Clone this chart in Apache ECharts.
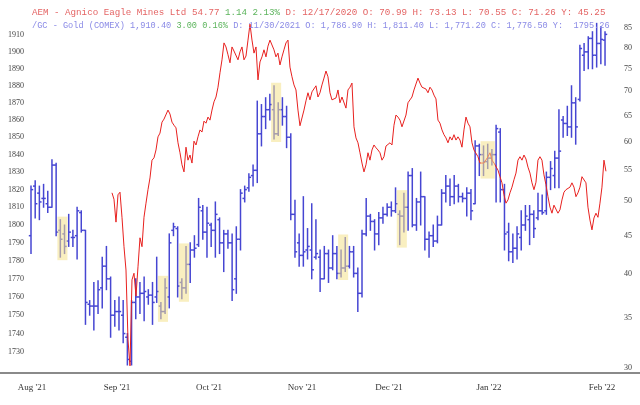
<!DOCTYPE html>
<html>
<head>
<meta charset="utf-8">
<script src="https://cdn.jsdelivr.net/npm/echarts@6/dist/echarts.min.js"></script>
<style>html,body{margin:0;padding:0;background:#fff}#c{width:640px;height:405px}</style>
</head>
<body>
<div id="c"></div>
<script>
// ---- data ----
const monthLabels = ["Aug '21","Sep '21","Oct '21","Nov '21","Dec '21","Jan '22","Feb '22"];
const monthAt = [0.24, 20.53, 42.48, 64.68, 85.44, 109.31, 136.28]; // in bar-index units
const goldTicks = [1730,1740,1750,1760,1770,1780,1790,1800,1810,1820,1830,1840,1850,1860,1870,1880,1890,1900,1910];
const aemTicks = [30,35,40,45,50,55,60,65,70,75,80,85];

const goldOpen = [
1794,1822,1818,1815,1812,1810,1834,1797,1795,1791,
1793,1794,1807,1797,1756,1755,1755,1765,1777,1770,
1750,1752,1750,1738,1725,1757,1760,1762,1760,1761,
1760,1755,1752,1760,1797,1798,1768,1765,1778,1786,
1789,1808,1796,1800,1797,1803,1790,1795,1790,1770,
1792,1815,1821,1828,1831,1852,1862,1866,1866,1852,
1866,1862,1850,1806,1790,1783,1786,1786,1782,1782,
1770,1784,1776,1784,1773,1776,1777,1785,1773,1762,
1795,1805,1802,1795,1804,1806,1810,1808,1806,1805,
1810,1828,1800,1813,1816,1792,1794,1791,1800,1818,
1822,1816,1822,1816,1815,1818,1812,1845,1840,1836,
1838,1840,1853,1820,1796,1785,1787,1793,1800,1803,
1806,1804,1808,1808,1827,1828,1838,1860,1858,1856,
1870,1872,1898,1900,1908,1898,1905,1907];
const goldHigh = [
1822,1825,1822,1823,1819,1837,1835,1803,1800,1806,
1797,1810,1808,1797,1758,1768,1769,1782,1788,1771,
1758,1760,1758,1740,1758,1770,1768,1771,1764,1768,
1782,1757,1770,1795,1801,1799,1770,1788,1790,1794,
1815,1811,1810,1801,1813,1804,1797,1797,1795,1799,
1820,1822,1829,1834,1871,1869,1873,1875,1880,1870,
1873,1868,1852,1814,1795,1816,1798,1812,1803,1786,
1788,1786,1794,1788,1786,1793,1788,1788,1776,1797,
1815,1806,1803,1807,1810,1812,1813,1821,1808,1818,
1830,1832,1815,1830,1816,1796,1800,1805,1820,1828,
1826,1828,1823,1818,1821,1820,1848,1846,1845,1846,
1843,1857,1855,1823,1801,1795,1799,1808,1811,1811,
1808,1818,1817,1830,1836,1842,1866,1862,1868,1880,
1873,1904,1905,1909,1912,1917,1915,1912];
const goldLow = [
1784,1804,1803,1810,1807,1810,1794,1782,1784,1788,
1788,1781,1796,1745,1750,1742,1751,1754,1764,1738,
1744,1742,1735,1723,1723,1748,1751,1747,1756,1745,
1757,1748,1751,1754,1794,1760,1759,1762,1768,1782,
1788,1792,1782,1788,1782,1784,1774,1787,1758,1762,
1786,1813,1819,1822,1824,1845,1855,1860,1849,1851,
1857,1844,1803,1782,1777,1777,1781,1770,1781,1763,
1770,1768,1775,1770,1771,1774,1776,1771,1752,1760,
1794,1797,1786,1789,1801,1805,1805,1807,1789,1796,
1797,1799,1797,1800,1786,1782,1788,1790,1800,1813,
1811,1812,1813,1813,1805,1803,1812,1828,1828,1832,
1834,1813,1813,1786,1780,1779,1781,1786,1797,1789,
1793,1803,1806,1806,1820,1821,1821,1850,1851,1850,
1846,1871,1889,1890,1890,1891,1893,1892];
const goldClose = [
1820,1812,1813,1815,1810,1834,1796,1792,1788,1796,
1793,1808,1797,1757,1755,1755,1764,1777,1770,1750,
1752,1752,1740,1726,1757,1760,1762,1763,1761,1757,
1763,1752,1765,1790,1799,1766,1765,1778,1786,1787,
1810,1796,1801,1797,1806,1790,1795,1790,1764,1792,
1818,1820,1827,1831,1852,1862,1866,1869,1852,1866,
1862,1850,1806,1785,1783,1785,1788,1775,1784,1770,
1784,1776,1784,1773,1776,1777,1785,1773,1762,1795,
1805,1802,1795,1804,1806,1810,1808,1812,1805,1810,
1828,1800,1813,1816,1792,1794,1791,1800,1818,1822,
1816,1822,1816,1815,1818,1808,1845,1840,1836,1838,
1840,1855,1820,1795,1785,1787,1795,1800,1805,1806,
1798,1808,1807,1827,1832,1838,1842,1858,1856,1870,
1856,1902,1900,1908,1898,1905,1907.4,1910.4];

// highlighted bar groups [firstBar, lastBar]
const highlights = [[7,8],[31,32],[36,37],[58,59],[74,75],[88,89],[108,110]];

// AEM close, sampled at a fixed interval starting at bar 19.33
const aemStart = 19.33, aemStep = 0.4773;
const aemClose = [
51.3,50.3,46.9,51.0,51.4,47.6,43.5,40.5,32.7,30.2,
39.3,40.1,37.4,40.9,44.7,43.5,47.6,49.7,51.8,53.7,
56.7,57.1,58.5,60.9,61.6,63.7,64.3,64.5,66.1,65.3,
63.7,63.1,62.6,59.8,58.0,55.9,54.7,59.0,56.7,57.6,
56.2,60.1,59.4,60.9,62.2,61.8,63.9,63.5,64.7,64.1,
66.1,67.8,68.8,70.9,74.1,77.1,81.2,80.2,78.3,76.4,
80.2,79.2,79.5,77.1,79.0,80.2,77.1,78.0,81.9,86.0,
81.9,78.7,80.2,72.5,76.6,77.8,79.5,77.8,80.4,81.9,
81.4,79.5,77.8,78.7,75.9,77.8,79.5,81.2,81.9,75.4,
73.2,71.4,70.3,66.1,63.0,62.8,66.1,68.0,69.7,68.2,
69.9,70.3,71.2,68.8,69.7,71.4,72.9,74.5,73.2,69.7,
68.2,68.4,68.6,70.3,67.6,68.8,69.0,66.5,70.3,70.9,
71.8,62.8,60.7,59.8,58.0,56.2,54.7,55.9,58.0,56.7,
58.5,59.4,58.9,58.5,58.0,56.7,57.3,59.2,59.0,59.8,
59.4,63.1,65.1,64.7,64.1,62.8,62.8,65.1,67.6,68.2,
68.8,70.3,71.6,72.9,71.8,70.9,70.7,70.5,69.7,70.9,
70.3,69.2,68.4,64.1,63.5,62.2,61.3,60.7,59.8,60.9,
60.3,61.3,60.3,60.9,60.3,59.0,62.2,64.7,63.5,62.8,
59.8,58.5,58.3,57.3,56.2,56.2,56.2,56.4,57.3,58.0,
56.7,56.2,55.9,55.0,53.9,52.9,51.0,49.7,50.2,51.3,
52.2,53.4,54.5,56.7,57.3,56.7,57.6,56.9,55.5,54.5,
52.9,51.8,53.0,56.7,57.3,56.7,54.2,52.6,50.7,49.1,
48.2,49.4,49.4,48.2,48.7,50.2,51.4,51.8,51.8,52.2,
52.9,52.2,50.7,51.3,52.2,53.9,54.2,52.9,49.1,47.2,
45.8,47.5,48.2,47.6,49.7,52.2,56.7,54.8];

// ---- chart ----
const L = Math.log;
const chart = echarts.init(document.getElementById('c'), null, {renderer:'canvas'});
const serif = 'Liberation Serif';
const mono = 'Liberation Mono';

const ohlc = goldOpen.map((o,i)=>[i, L(o), L(goldHigh[i]), L(goldLow[i]), L(goldClose[i])]);
const boxData = highlights.map(([s,e])=>{
  let hi=-Infinity, lo=Infinity;
  for(let i=s;i<=e;i++){hi=Math.max(hi,goldHigh[i]);lo=Math.min(lo,goldLow[i]);}
  return [s, e, L(lo), L(hi)];
});
const aem = aemClose.map((v,k)=>[aemStart + k*aemStep, L(v)]);

const barColor = '#4646d2';
const pxPerBar = 4.19;
const xMin = -31/pxPerBar, xMax = xMin + 640/pxPerBar;

chart.setOption({
  animation:false,
  backgroundColor:'#ffffff',
  title:[
    {left:27, top:3, text:'{a|AEM - Agnico Eagle Mines Ltd 54.77 }{g|1.14 2.13%}{a| D: 12/17/2020 O: 70.99 H: 73.13 L: 70.55 C: 71.26 Y: 45.25}',
     textStyle:{fontSize:9, fontFamily:mono, fontWeight:'normal', rich:{
       a:{color:'#e46464', fontSize:9.2, fontFamily:mono},
       g:{color:'#5cb45c', fontSize:9.2, fontFamily:mono}}}},
    {left:27, top:16, text:'{a|/GC - Gold (COMEX) 1,910.40 }{g|3.00 0.16%}{a| D: 11/30/2021 O: 1,786.90 H: 1,811.40 L: 1,771.20 C: 1,776.50 Y:  1795.26}',
     textStyle:{fontSize:9, fontFamily:mono, fontWeight:'normal', rich:{
       a:{color:'#8a8ae6', fontSize:8.6, fontFamily:mono},
       g:{color:'#5cb45c', fontSize:8.6, fontFamily:mono}}}}
  ],
  grid:{left:0, right:0, top:20, height:353},
  xAxis:{type:'value', min:xMin, max:xMax,
    axisLine:{show:true, onZero:false, lineStyle:{color:'#8a8a8a', width:2}},
    axisTick:{show:false}, splitLine:{show:false},
    axisLabel:{customValues:monthAt, color:'#333', fontFamily:serif, fontSize:9, margin:10,
      formatter:(v)=>{let b=0;for(let i=1;i<monthAt.length;i++){if(Math.abs(monthAt[i]-v)<Math.abs(monthAt[b]-v))b=i;}return monthLabels[b];}}
  },
  yAxis:[
    {type:'value', position:'left', min:L(1718.7), max:L(1919.0),
     axisLine:{show:false}, axisTick:{show:false}, splitLine:{show:false},
     axisLabel:{inside:true, customValues:goldTicks.map(L), margin:8, color:'#444', fontFamily:serif, fontSize:8,
       formatter:(v)=>String(Math.round(Math.exp(v)))}},
    {type:'value', position:'right', min:L(29.545), max:L(87.10),
     axisLine:{show:false}, axisTick:{show:false}, splitLine:{show:false},
     axisLabel:{inside:true, customValues:aemTicks.map(L), margin:8, color:'#444', fontFamily:serif, fontSize:8,
       formatter:(v)=>String(Math.round(Math.exp(v)))}}
  ],
  series:[
    {type:'custom', yAxisIndex:0, z:2, clip:false,
     encode:{x:0, y:[1,2,3,4]},
     data:ohlc,
     renderItem:(params, api)=>{
       const x = api.value(0);
       const pO = api.coord([x, api.value(1)]);
       const pH = api.coord([x, api.value(2)]);
       const pL = api.coord([x, api.value(3)]);
       const pC = api.coord([x, api.value(4)]);
       const st = {stroke:barColor, lineWidth:1.5};
       return {type:'group', children:[
         {type:'line', shape:{x1:pH[0], y1:pH[1]-0.5, x2:pL[0], y2:pL[1]+0.5}, style:st},
         {type:'line', shape:{x1:pO[0]-2.2, y1:pO[1], x2:pO[0], y2:pO[1]}, style:st},
         {type:'line', shape:{x1:pC[0], y1:pC[1], x2:pC[0]+2.2, y2:pC[1]}, style:st}
       ]};
     }},
    {type:'line', yAxisIndex:1, z:3, data:aem, showSymbol:false, symbol:'none',
     lineStyle:{color:'#e8211f', width:1}},
    {type:'custom', yAxisIndex:0, z:5, clip:false,
     encode:{x:[0,1], y:[2,3]},
     data:boxData,
     renderItem:(params, api)=>{
       const a = api.coord([api.value(0)-0.7, api.value(3)]);
       const b = api.coord([api.value(1)+0.7, api.value(2)]);
       return {type:'rect', shape:{x:a[0], y:a[1]-3, width:b[0]-a[0], height:b[1]-a[1]+6},
         style:{fill:'rgba(244,226,140,0.55)'}};
     }}
  ]
});
</script>
</body>
</html>
